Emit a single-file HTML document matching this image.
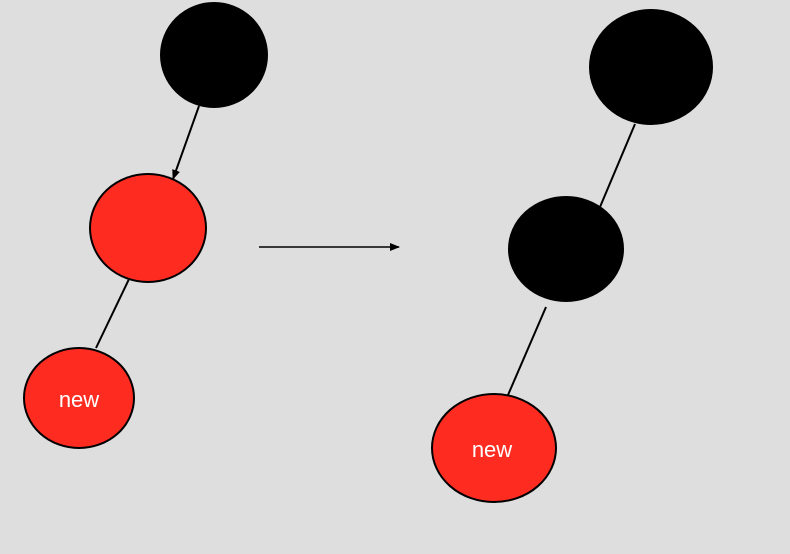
<!DOCTYPE html>
<html><head><style>html,body{margin:0;padding:0;background:#dedede;}svg{display:block}</style></head>
<body>
<svg width="790" height="554" viewBox="0 0 790 554" xmlns="http://www.w3.org/2000/svg">
<rect width="790" height="554" fill="#dedede"/>
<defs><marker id="a" markerWidth="10" markerHeight="8" refX="9" refY="4" orient="auto" markerUnits="userSpaceOnUse"><path d="M0,0 L10,4 L0,8 z" fill="#000"/></marker></defs>
<g stroke="#000" stroke-width="2" fill="none">
<line x1="199" y1="106" x2="173" y2="179" marker-end="url(#a)"/>
<line x1="130" y1="277" x2="96" y2="348"/>
<line x1="259" y1="247" x2="399" y2="247" stroke-width="1.5" marker-end="url(#a)"/>
<line x1="635" y1="124" x2="600" y2="207"/>
<line x1="546" y1="307" x2="508" y2="395"/>
</g>
<g stroke="#000" stroke-width="2">
<ellipse cx="214" cy="55" rx="53" ry="52" fill="#000"/>
<ellipse cx="148" cy="228" rx="58" ry="54" fill="#fe2c20"/>
<ellipse cx="79" cy="398" rx="55" ry="50" fill="#fe2c20"/>
<ellipse cx="651" cy="67" rx="61" ry="57" fill="#000"/>
<ellipse cx="566" cy="249" rx="57" ry="52" fill="#000"/>
<ellipse cx="494" cy="448" rx="62" ry="54" fill="#fe2c20"/>
</g>
<g font-family="Liberation Sans, sans-serif" font-size="22" fill="#fff" text-anchor="middle">
<text x="79" y="407">new</text>
<text x="492" y="457">new</text>
</g>
</svg>
</body></html>
